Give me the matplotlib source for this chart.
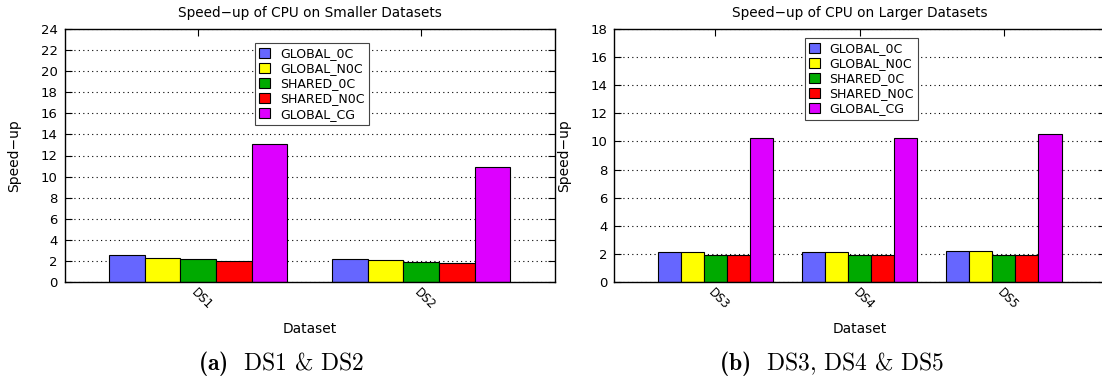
import numpy as np
import matplotlib
matplotlib.use('Agg')
import matplotlib.pyplot as plt
import matplotlib.transforms as mtransforms

plt.rcParams['font.family'] = ['DejaVu Sans']
# math text is only used in the captions: bold label in cmb10
plt.rcParams['mathtext.fontset'] = 'custom'
plt.rcParams['mathtext.bf'] = 'cmb10'
plt.rcParams['mathtext.rm'] = 'cmr10'

# kernel variants and their bar colours
kernels = ['GLOBAL_0C', 'GLOBAL_N0C', 'SHARED_0C', 'SHARED_N0C', 'GLOBAL_CG']
colors = ['#6666ff', '#ffff00', '#00aa00', '#ff0000', '#dd00ff']

# speed-up on the smaller datasets
small_sets = ['DS1', 'DS2']
small_global_0c = [2.52, 2.18]
small_global_n0c = [2.31, 2.12]
small_shared_0c = [2.22, 1.87]
small_shared_n0c = [2.02, 1.81]
small_global_cg = [13.07, 10.95]

# speed-up on the larger datasets
large_sets = ['DS3', 'DS4', 'DS5']
large_global_0c = [2.13, 2.13, 2.18]
large_global_n0c = [2.11, 2.11, 2.18]
large_shared_0c = [1.92, 1.92, 1.94]
large_shared_n0c = [1.90, 1.90, 1.92]
large_global_cg = [10.24, 10.26, 10.50]

BAR_W = 0.16


def speedup_panel(ax, names, series, ymax, title, legend_top):
    x = np.arange(len(names))
    for i, (vals, col, lab) in enumerate(zip(series, colors, kernels)):
        ax.bar(x + (i - 2) * BAR_W, vals, BAR_W, color=col, edgecolor='black',
               linewidth=0.8, label=lab, zorder=3)
    margin = 0.6 if len(names) == 2 else 0.7
    ax.set_xlim(-margin, len(names) - 1 + margin)
    ax.set_ylim(0, ymax)
    ax.set_yticks(np.arange(0, ymax + 1, 2))
    ax.set_xticks(x)
    ax.set_xticklabels(names, rotation=-45, ha='left', va='top',
                       rotation_mode='anchor', fontsize=8.5)
    shift = mtransforms.ScaledTranslation(0.07, 0, ax.figure.dpi_scale_trans)
    for lbl in ax.get_xticklabels():
        lbl.set_transform(lbl.get_transform() + shift)
    ax.tick_params(axis='x', direction='in', top=True, bottom=True,
                   length=5, pad=3)
    ax.tick_params(axis='y', direction='in', left=True, right=True,
                   length=5, labelsize=9.5, pad=5)
    ax.yaxis.grid(True, color='black', linestyle=(0, (1, 3)), linewidth=0.8)
    ax.set_axisbelow(True)
    for sp in ax.spines.values():
        sp.set_linewidth(1.0)
        sp.set_zorder(4)
    ax.set_title(title, fontsize=9.8, y=(282 - 12.5) / 253, pad=0,
                 va='center')
    ax.set_xlabel('Dataset', fontsize=9.9, va='center')
    ax.xaxis.set_label_coords(0.5, -0.185)
    ax.set_ylabel('Speed\u2212up', fontsize=10, va='center')
    ax.yaxis.set_label_coords(-0.102, 0.5)
    leg = ax.legend(loc='upper left', bbox_to_anchor=(0.388, legend_top),
                    fontsize=9, frameon=True, fancybox=False,
                    framealpha=1, edgecolor='#444444', borderaxespad=0,
                    handlelength=0.85, handleheight=0.85, labelspacing=0.17,
                    handletextpad=0.8, borderpad=0.35)
    leg.get_frame().set_linewidth(0.8)
    leg.set_zorder(5)


fig = plt.figure(figsize=(11.02, 3.82), dpi=100)
ax_l = fig.add_axes([64.5 / 1102, 1 - 282 / 382, 490.5 / 1102, 253 / 382])
ax_r = fig.add_axes([614.3 / 1102, 1 - 282 / 382, 490.5 / 1102, 253 / 382])

speedup_panel(ax_l, small_sets,
              [small_global_0c, small_global_n0c, small_shared_0c,
               small_shared_n0c, small_global_cg],
              24, 'Speed\u2212up of CPU on Smaller Datasets', 0.946)
speedup_panel(ax_r, large_sets,
              [large_global_0c, large_global_n0c, large_shared_0c,
               large_shared_n0c, large_global_cg],
              18, 'Speed\u2212up of CPU on Larger Datasets', 0.966)

# subfigure captions in Computer Modern (bold label, roman text)
fig.text(281 / 1102, 1 - 364 / 382, r'$\mathbf{(a)}$  DS1 & DS2',
         ha='center', va='center', fontsize=17, family='cmr10')
fig.text(832 / 1102, 1 - 364 / 382, r'$\mathbf{(b)}$  DS3, DS4 & DS5',
         ha='center', va='center', fontsize=17, family='cmr10')

fig.savefig('out.png', dpi=100)
